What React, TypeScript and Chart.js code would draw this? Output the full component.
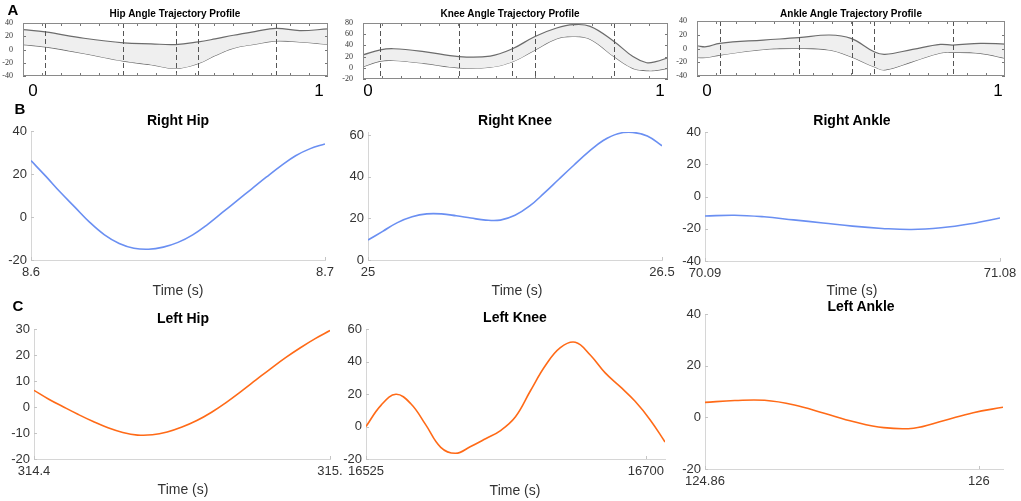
import React, { useEffect, useRef } from "react";
import { Chart, registerables } from "chart.js";

Chart.register(...registerables);

// ---------- Panel A: trajectory profiles (normalised cycle 0..1) ----------
const hipProfileX = [0, 0.073, 0.2, 0.33, 0.42, 0.5, 0.575, 0.63, 0.69, 0.76, 0.83, 0.907, 1];
const hipProfileUpper = [30, 26.5, 17, 10, 8.5, 7.5, 11.5, 16, 21.5, 27, 32, 28.5, 31];
const hipProfileLower = [7.5, 4, -6, -17.5, -23, -28.5, -21, -9, 2, 8, 13, 11.5, 8];
const hipEvents = [0.072, 0.328, 0.502, 0.574, 0.83];
const hipProfileYTicks = [-40, -20, 0, 20, 40];

const kneeProfileX = [0, 0.057, 0.1, 0.2, 0.315, 0.417, 0.49, 0.564, 0.635, 0.69, 0.745, 0.823, 0.885, 0.93, 0.96, 1];
const kneeProfileUpper = [23, 32, 34, 29, 20, 21, 34, 56, 71, 77, 74, 47, 20, 9, 11, 18];
const kneeProfileLower = [2, 12, 13, 8, 0, 1, 11, 32, 52, 56, 51, 20, -1, -5, -4.5, -1];
const kneeEvents = [0.057, 0.316, 0.49, 0.565, 0.824];
const kneeProfileYTicks = [-20, 0, 20, 40, 60, 80];

const ankleProfileX = [0, 0.03, 0.074, 0.215, 0.33, 0.43, 0.5, 0.575, 0.61, 0.7, 0.79, 0.83, 0.92, 1];
const ankleProfileUpper = [4, 2.6, 7.5, 12.3, 15.7, 19.6, 14.8, -4.7, -8.5, -1.3, 6, 5, 7.5, 6.5];
const ankleProfileLower = [-13, -13, -9.5, -1.3, 0.2, -2.2, -12, -26.5, -31, -19, -6.5, -5.6, -7, -14];
const ankleEvents = [0.075, 0.331, 0.503, 0.575, 0.831];
const ankleProfileYTicks = [-40, -20, 0, 20, 40];

// ---------- Panel B: right side ----------
const rightHipTime = [8.6, 8.605, 8.61, 8.615, 8.62, 8.625, 8.63, 8.635, 8.64, 8.645, 8.65, 8.655, 8.66, 8.665, 8.67, 8.675, 8.68, 8.685, 8.69, 8.695, 8.7];
const rightHipAngle = [26.2, 19, 11.5, 4.5, -2.5, -8.3, -12.3, -14.5, -15, -14, -11.8, -8.3, -3.5, 2, 7.5, 13, 18.5, 23.8, 28.5, 31.8, 34];
const rightHipXTicks = [8.6, 8.7];
const rightHipXLabels = ["8.6", "8.7"];
const rightHipYTicks = [-20, 0, 20, 40];

const rightKneeTime = [25, 25.075, 25.15, 25.225, 25.3, 25.375, 25.45, 25.525, 25.6, 25.675, 25.75, 25.825, 25.9, 25.975, 26.05, 26.125, 26.2, 26.275, 26.35, 26.425, 26.5];
const rightKneeAngle = [9.6, 13.8, 18, 20.8, 22.2, 22.2, 21.3, 20.2, 19.2, 19.2, 21.5, 26, 32.3, 39, 45.6, 52, 57.5, 60.8, 61.4, 59.7, 55];
const rightKneeXTicks = [25, 26.5];
const rightKneeXLabels = ["25", "26.5"];
const rightKneeYTicks = [0, 20, 40, 60];

const rightAnkleTime = [70.09, 70.189, 70.288, 70.387, 70.486, 70.585, 70.684, 70.783, 70.882, 70.981, 71.08];
const rightAngleAngle = [-12.1, -11.6, -12.6, -14.5, -16.4, -18.4, -19.8, -20.5, -19.4, -16.9, -13.3];
const rightAnkleXTicks = [70.09, 71.08];
const rightAnkleXLabels = ["70.09", "71.08"];
const rightAnkleYTicks = [-40, -20, 0, 20, 40];

// ---------- Panel C: left side ----------
const leftHipTime = [314.4, 314.43, 314.46, 314.49, 314.52, 314.55, 314.58, 314.61, 314.64, 314.67, 314.7, 314.73, 314.76, 314.79, 314.82, 314.85, 314.88, 314.91, 314.94, 314.97, 315.0];
const leftHipAngle = [6.4, 3.0, 0.0, -2.9, -5.6, -8.0, -9.8, -10.8, -10.7, -9.6, -7.7, -5.2, -2.0, 1.8, 6.0, 10.4, 14.8, 19.0, 22.8, 26.3, 29.4];
const leftHipXTicks = [314.4, 315.0];
const leftHipXLabels = ["314.4", "315."];
const leftHipYTicks = [-20, -10, 0, 10, 20, 30];

const leftKneeTime = [16525, 16534.35, 16543.7, 16553.05, 16562.4, 16571.75, 16581.1, 16590.45, 16599.8, 16609.15, 16618.5, 16627.85, 16637.2, 16646.55, 16655.9, 16665.25, 16674.6, 16683.95, 16693.3, 16702.65, 16712];
const leftKneeAngle = [0, 13, 19.8, 14, 1, -12.8, -16.5, -12.3, -7.5, -2.5, 6, 22, 37.5, 48.5, 51.8, 44, 33, 24.5, 15.5, 4.2, -9.5];
const leftKneeXTicks = [16525, 16700];
const leftKneeXLabels = ["16525", "16700"];
const leftKneeYTicks = [-20, 0, 20, 40, 60];

const leftAnkleTime = [124.86, 124.984, 125.108, 125.232, 125.356, 125.48, 125.604, 125.728, 125.852, 125.976, 126.1];
const leftAnkleAngle = [5.8, 6.5, 6.6, 4.8, 1.6, -1.7, -4.0, -4.2, -1.3, 1.8, 3.9];
const leftAnkleXTicks = [124.86, 126];
const leftAnkleXLabels = ["124.86", "126"];
const leftAnkleYTicks = [-20, 0, 20, 40];

const BLUE = "#6a8ff2";
const ORANGE = "#ff6a17";
const SANS = "'Liberation Sans', Arial, Helvetica, sans-serif";

Chart.defaults.font.family = SANS;

const decoPlugin = {
  id: "deco",
  afterDatasetsDraw(chart: any, _args: any, opts: any) {
    if (!opts || !opts.enabled) return;
    const { ctx, chartArea: a } = chart;
    const xs = chart.scales.x;
    const ys = chart.scales.y;
    const line = (x1: number, y1: number, x2: number, y2: number) => {
      ctx.beginPath();
      ctx.moveTo(x1, y1);
      ctx.lineTo(x2, y2);
      ctx.stroke();
    };
    ctx.save();
    if (opts.events) {
      ctx.strokeStyle = opts.eventColor;
      ctx.lineWidth = 1;
      ctx.setLineDash([5, 3]);
      for (const e of opts.events) {
        const px = Math.round(xs.getPixelForValue(e)) + 0.5;
        line(px, a.top, px, a.bottom);
      }
      ctx.setLineDash([]);
    }
    ctx.strokeStyle = opts.tickColor;
    ctx.lineWidth = 1;
    const len = opts.tickLen;
    for (const t of ys.ticks) {
      const py = Math.round(ys.getPixelForValue(t.value)) + 0.5;
      line(a.left, py, a.left + len, py);
      if (opts.mirror) line(a.right - len, py, a.right, py);
    }
    const xv: number[] = opts.xMinor ? opts.xMinor : xs.ticks.map((t: any) => t.value);
    for (const v of xv) {
      const px = Math.round(xs.getPixelForValue(v)) + 0.5;
      line(px, a.bottom, px, a.bottom - len);
      if (opts.mirror) line(px, a.top, px, a.top + len);
    }
    if (opts.box) {
      ctx.strokeStyle = opts.boxColor;
      ctx.strokeRect(a.left + 0.5, a.top + 0.5, a.right - a.left - 1, a.bottom - a.top - 1);
    }
    ctx.restore();
  },
};
Chart.register(decoPlugin);

type Box = { L: number; T: number; R: number; B: number; yw: number; padTop: number; padRight: number; xh: number };

const minorTicks = Array.from({ length: 15 }, (_, k) => (k + 1) / 16);

function bandConfig(box: Box, xs: number[], upper: number[], lower: number[], yMin: number, yMax: number, yTicks: number[], events: number[]) {
  return {
    type: "line",
    data: {
      datasets: [
        {
          data: xs.map((x, i) => ({ x, y: upper[i] })),
          borderColor: "#6c6c6c",
          borderWidth: 1.2,
          pointRadius: 0,
          fill: "+1",
          backgroundColor: "#efefef",
          tension: 0.4,
        },
        {
          data: xs.map((x, i) => ({ x, y: lower[i] })),
          borderColor: "#6c6c6c",
          borderWidth: 1.2,
          pointRadius: 0,
          fill: false,
          tension: 0.4,
        },
      ],
    },
    options: {
      animation: false,
      responsive: false,
      events: [],
      layout: { padding: { top: box.padTop, right: box.padRight, bottom: box.xh, left: 0 } },
      plugins: {
        legend: { display: false },
        tooltip: { enabled: false },
        deco: {
          enabled: true,
          events,
          eventColor: "#555555",
          tickColor: "#777777",
          tickLen: 3,
          mirror: true,
          xMinor: minorTicks,
          box: true,
          boxColor: "#8a8a8a",
        },
      },
      scales: {
        x: { type: "linear", min: 0, max: 1, display: false },
        y: {
          min: yMin,
          max: yMax,
          afterBuildTicks: (s: any) => {
            s.ticks = yTicks.map((v) => ({ value: v }));
          },
          afterFit: (s: any) => {
            s.width = box.yw;
          },
          grid: { display: false },
          border: { display: false },
          ticks: {
            autoSkip: false,
            font: { family: "'Liberation Serif', 'Times New Roman', serif", size: 8 },
            color: "#333333",
            padding: 2,
          },
        },
      },
    },
  };
}

function lineConfig(box: Box, xs: number[], ys: number[], color: string, xMin: number, xMax: number, xTicks: number[], xLabels: string[], yMin: number, yMax: number, yTicks: number[]) {
  return {
    type: "line",
    data: {
      datasets: [
        {
          data: xs.map((x, i) => ({ x, y: ys[i] })),
          borderColor: color,
          borderWidth: 1.6,
          pointRadius: 0,
          fill: false,
          tension: 0.4,
        },
      ],
    },
    options: {
      animation: false,
      responsive: false,
      events: [],
      layout: { padding: { top: box.padTop, right: box.padRight, bottom: 0, left: 0 } },
      plugins: {
        legend: { display: false },
        tooltip: { enabled: false },
        deco: { enabled: true, tickColor: "#c4c4c4", tickLen: 3, mirror: false },
      },
      scales: {
        x: {
          type: "linear",
          min: xMin,
          max: xMax,
          afterBuildTicks: (s: any) => {
            s.ticks = xTicks.map((v) => ({ value: v }));
          },
          afterFit: (s: any) => {
            s.height = box.xh;
          },
          grid: { display: true, drawOnChartArea: false, drawTicks: false },
          border: { display: true, color: "#d6d6d6", width: 1 },
          ticks: {
            color: "#333333",
            font: { size: 13 },
            padding: 5,
            maxRotation: 0,
            autoSkip: false,
            callback: (_v: any, i: number) => xLabels[i],
          },
        },
        y: {
          min: yMin,
          max: yMax,
          afterBuildTicks: (s: any) => {
            s.ticks = yTicks.map((v) => ({ value: v }));
          },
          afterFit: (s: any) => {
            s.width = box.yw;
          },
          grid: { display: true, drawOnChartArea: false, drawTicks: false },
          border: { display: true, color: "#d6d6d6", width: 1 },
          ticks: { color: "#333333", font: { size: 13 }, padding: 4, autoSkip: false },
        },
      },
    },
  };
}

function ChartCanvas({ box, config }: { box: Box; config: any }) {
  const ref = useRef<HTMLCanvasElement>(null);
  useEffect(() => {
    const c = new Chart(ref.current as HTMLCanvasElement, config);
    return () => c.destroy();
  }, []);
  const left = box.L - box.yw;
  const top = box.T - box.padTop;
  const w = box.R - box.L + box.yw + box.padRight;
  const h = box.B - box.T + box.padTop + box.xh;
  return <canvas ref={ref} width={w} height={h} style={{ position: "absolute", left, top, width: w, height: h }} />;
}

function Text({ text, x, y, size, bold, color, family }: { text: string; x: number; y: number; size: number; bold?: boolean; color?: string; family?: string }) {
  return (
    <div
      style={{
        position: "absolute",
        left: x,
        top: y,
        transform: "translate(-50%, -50%)",
        fontSize: size,
        fontWeight: bold ? 700 : 400,
        color: color || "#000",
        fontFamily: family || SANS,
        whiteSpace: "nowrap",
        lineHeight: 1,
      }}
    >
      {text}
    </div>
  );
}

const boxA1: Box = { L: 23, T: 23, R: 328, B: 76, yw: 30, padTop: 10, padRight: 6, xh: 10 };
const boxA2: Box = { L: 363, T: 23, R: 668, B: 79, yw: 30, padTop: 10, padRight: 6, xh: 10 };
const boxA3: Box = { L: 697, T: 21, R: 1005, B: 76, yw: 30, padTop: 10, padRight: 6, xh: 10 };

const boxB1: Box = { L: 31, T: 131, R: 325, B: 260, yw: 45, padTop: 12, padRight: 30, xh: 30 };
const boxB2: Box = { L: 368, T: 132, R: 662, B: 260, yw: 45, padTop: 12, padRight: 30, xh: 30 };
const boxB3: Box = { L: 705, T: 132, R: 1000, B: 261, yw: 45, padTop: 12, padRight: 30, xh: 30 };

const boxC1: Box = { L: 34, T: 329, R: 330, B: 459, yw: 45, padTop: 12, padRight: 30, xh: 30 };
const boxC2: Box = { L: 366, T: 329, R: 665, B: 459, yw: 45, padTop: 12, padRight: 30, xh: 30 };
const boxC3: Box = { L: 705, T: 314, R: 1003, B: 469, yw: 45, padTop: 12, padRight: 30, xh: 30 };

const NARROW = "'Liberation Sans Narrow', 'Arial Narrow', 'Liberation Sans', sans-serif";

export default function App() {
  return (
    <div style={{ position: "fixed", left: 0, top: 0, width: 1021, height: 501, overflow: "hidden", background: "#fff" }}>
      <ChartCanvas box={boxA1} config={bandConfig(boxA1, hipProfileX, hipProfileUpper, hipProfileLower, -40, 40, hipProfileYTicks, hipEvents)} />
      <ChartCanvas box={boxA2} config={bandConfig(boxA2, kneeProfileX, kneeProfileUpper, kneeProfileLower, -20, 80, kneeProfileYTicks, kneeEvents)} />
      <ChartCanvas box={boxA3} config={bandConfig(boxA3, ankleProfileX, ankleProfileUpper, ankleProfileLower, -40, 40, ankleProfileYTicks, ankleEvents)} />

      <ChartCanvas box={boxB1} config={lineConfig(boxB1, rightHipTime, rightHipAngle, BLUE, 8.6, 8.7, rightHipXTicks, rightHipXLabels, -20, 40, rightHipYTicks)} />
      <ChartCanvas box={boxB2} config={lineConfig(boxB2, rightKneeTime, rightKneeAngle, BLUE, 25, 26.5, rightKneeXTicks, rightKneeXLabels, 0, 61.6, rightKneeYTicks)} />
      <ChartCanvas box={boxB3} config={lineConfig(boxB3, rightAnkleTime, rightAngleAngle, BLUE, 70.09, 71.08, rightAnkleXTicks, rightAnkleXLabels, -40, 40, rightAnkleYTicks)} />

      <ChartCanvas box={boxC1} config={lineConfig(boxC1, leftHipTime, leftHipAngle, ORANGE, 314.4, 315.0, leftHipXTicks, leftHipXLabels, -20, 30, leftHipYTicks)} />
      <ChartCanvas box={boxC2} config={lineConfig(boxC2, leftKneeTime, leftKneeAngle, ORANGE, 16525, 16712, leftKneeXTicks, leftKneeXLabels, -20, 60, leftKneeYTicks)} />
      <ChartCanvas box={boxC3} config={lineConfig(boxC3, leftAnkleTime, leftAnkleAngle, ORANGE, 124.86, 126.1, leftAnkleXTicks, leftAnkleXLabels, -20, 40, leftAnkleYTicks)} />

      <Text text="A" x={13} y={9} size={15} bold />
      <Text text="B" x={20} y={108} size={15} bold />
      <Text text="C" x={18} y={305} size={15} bold />

      <Text text="Hip Angle Trajectory Profile" x={175} y={14} size={10} bold family={NARROW} />
      <Text text="Knee Angle Trajectory Profile" x={510} y={14} size={10} bold family={NARROW} />
      <Text text="Ankle Angle Trajectory Profile" x={851} y={14} size={10} bold family={NARROW} />

      <Text text="0" x={33} y={90} size={17} />
      <Text text="1" x={319} y={90} size={17} />
      <Text text="0" x={368} y={90} size={17} />
      <Text text="1" x={660} y={90} size={17} />
      <Text text="0" x={707} y={90} size={17} />
      <Text text="1" x={998} y={90} size={17} />

      <Text text="Right Hip" x={178} y={120} size={14} bold />
      <Text text="Right Knee" x={515} y={120} size={14} bold />
      <Text text="Right Ankle" x={852} y={120} size={14} bold />
      <Text text="Left Hip" x={183} y={318} size={14} bold />
      <Text text="Left Knee" x={515} y={317} size={14} bold />
      <Text text="Left Ankle" x={861} y={306} size={14} bold />

      <Text text="Time (s)" x={178} y={290} size={14} color="#333" />
      <Text text="Time (s)" x={517} y={290} size={14} color="#333" />
      <Text text="Time (s)" x={852} y={290} size={14} color="#333" />
      <Text text="Time (s)" x={183} y={489} size={14} color="#333" />
      <Text text="Time (s)" x={515} y={490} size={14} color="#333" />
    </div>
  );
}
